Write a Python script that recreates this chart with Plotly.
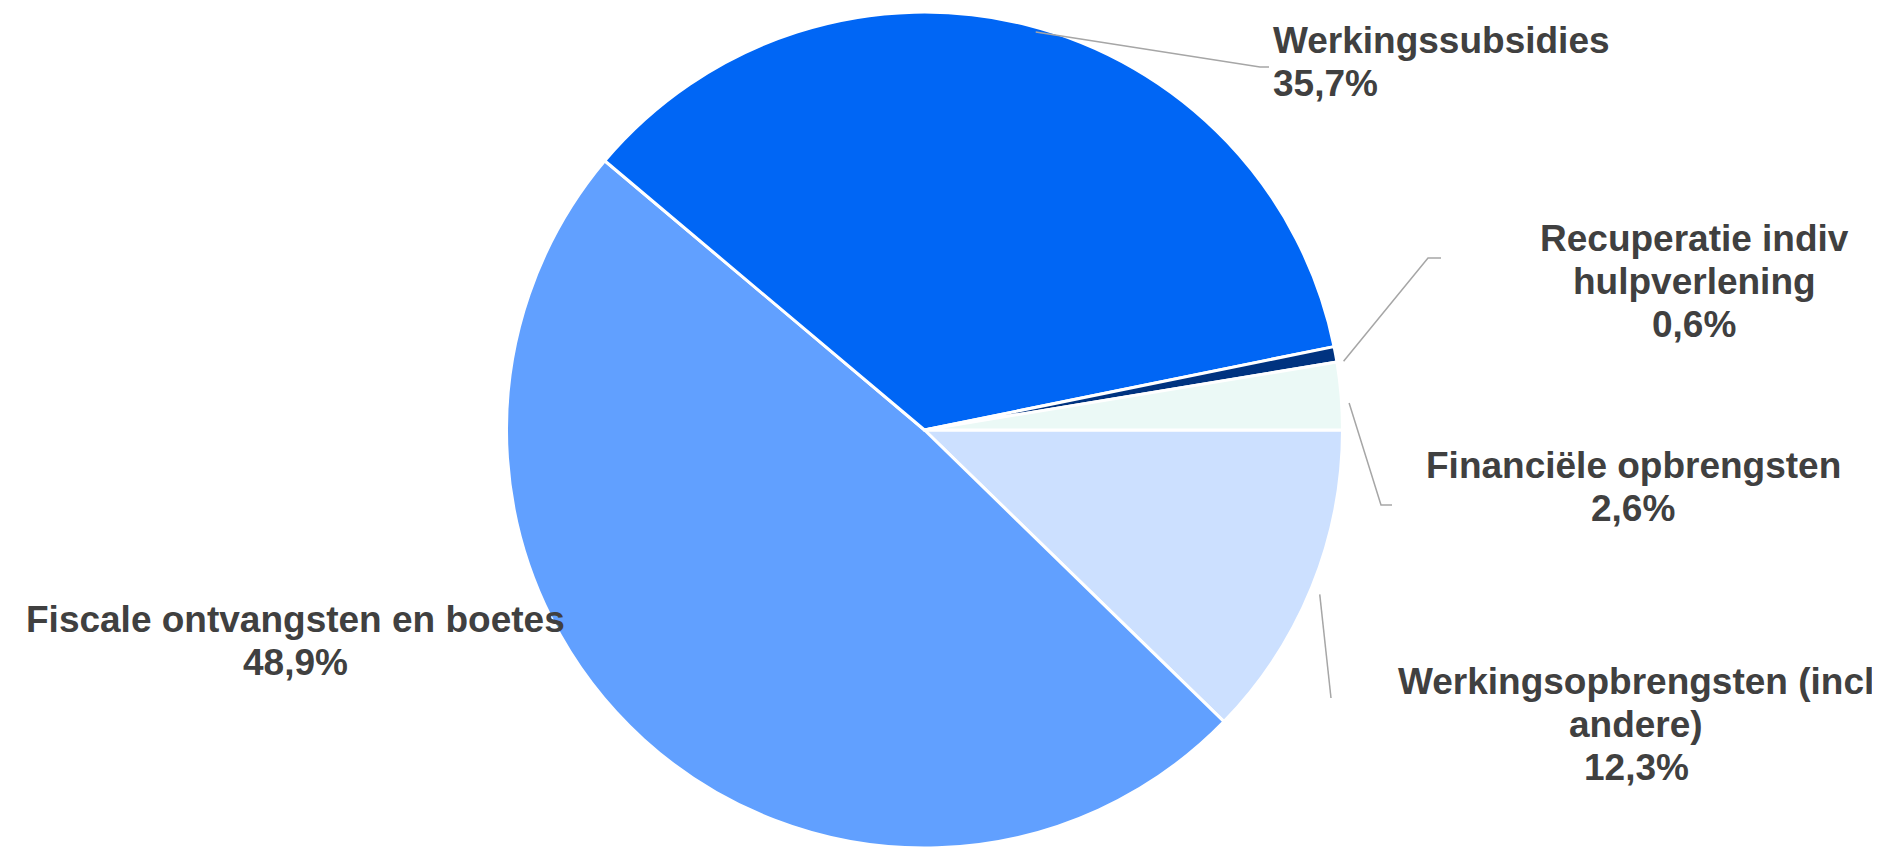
import math
import plotly.graph_objects as go

# Data (clockwise from 3 o'clock)
categories = ["Werkingsopbrengsten (incl andere)", "Fiscale ontvangsten en boetes",
              "Werkingssubsidies", "Recuperatie indiv hulpverlening", "Financiële opbrengsten"]
values = [12.3, 48.9, 35.7, 0.6, 2.6]
label_lines = [["Werkingsopbrengsten (incl", "andere)"], ["Fiscale ontvangsten en boetes"],
               ["Werkingssubsidies"], ["Recuperatie indiv", "hulpverlening"], ["Financiële opbrengsten"]]
colors = ["#CCE0FF", "#61A0FF", "#0066F5", "#003380", "#EBF9F6"]

W, H = 1880, 849
CX, CY, R = 924.5, 429.0, 418.0  # pixel geometry of the pie
DX, DY = -8, -7  # correction for plotly's domain placement
FS = 37
LINE_GAP = 43

fig = go.Figure(go.Pie(
    labels=categories, values=values, sort=False, direction="clockwise", rotation=90,
    marker=dict(colors=colors, line=dict(color="white", width=3)),
    textinfo="none", hoverinfo="label+percent", showlegend=False,
    domain=dict(x=[(CX + DX - 460) / W, (CX + DX + 460) / W],
                y=[(H - CY - DY - R) / H, (H - CY - DY + R) / H]),
))

# label layout: (x px, first baseline px, xanchor, elbow (x,y) or None, end (x,y) or None)
label_pos = [
    (1628, 686, "center", None, (1323, 690)),
    (287, 624, "center", None, None),
    (1264, 45, "left", (1252, 59), (1261, 59)),
    (1686, 243, "center", (1420, 250), (1433, 250)),
    (1625, 470, "center", (1373, 497), (1384, 497)),
]

total = sum(values)
cum = 0.0
for i, v in enumerate(values):
    mid = (cum + v / 2) / total
    cum += v
    ang = math.radians(-mid * 360)  # clockwise from 3 o'clock
    sx, sy = CX + R * math.cos(ang), CY - R * math.sin(ang)
    lx, b1, xa, elbow, end = label_pos[i]
    pct = f"{v:.1f}".replace(".", ",") + "%"
    for k, line in enumerate(label_lines[i] + [pct]):
        base = b1 + k * LINE_GAP
        ymid = base - 0.33 * FS
        fig.add_annotation(x=lx / W, y=1 - ymid / H, xref="paper", yref="paper",
                           text=f"<b>{line}</b>", showarrow=False,
                           xanchor=xa, yanchor="middle", borderpad=0,
                           font=dict(family="Liberation Sans, Arial", size=FS, color="#404040"))
    if end is not None:
        pts = [(sx, sy)] + ([elbow] if elbow else []) + [end]
        path = "M " + " L ".join(f"{p[0]/W},{1 - p[1]/H}" for p in pts)
        fig.add_shape(type="path", xref="paper", yref="paper", path=path,
                      line=dict(color="#A6A6A6", width=1.5))

fig.update_layout(width=W, height=H, margin=dict(l=0, r=0, t=0, b=0),
                  paper_bgcolor="white", plot_bgcolor="white")
fig.write_html("out.html")
